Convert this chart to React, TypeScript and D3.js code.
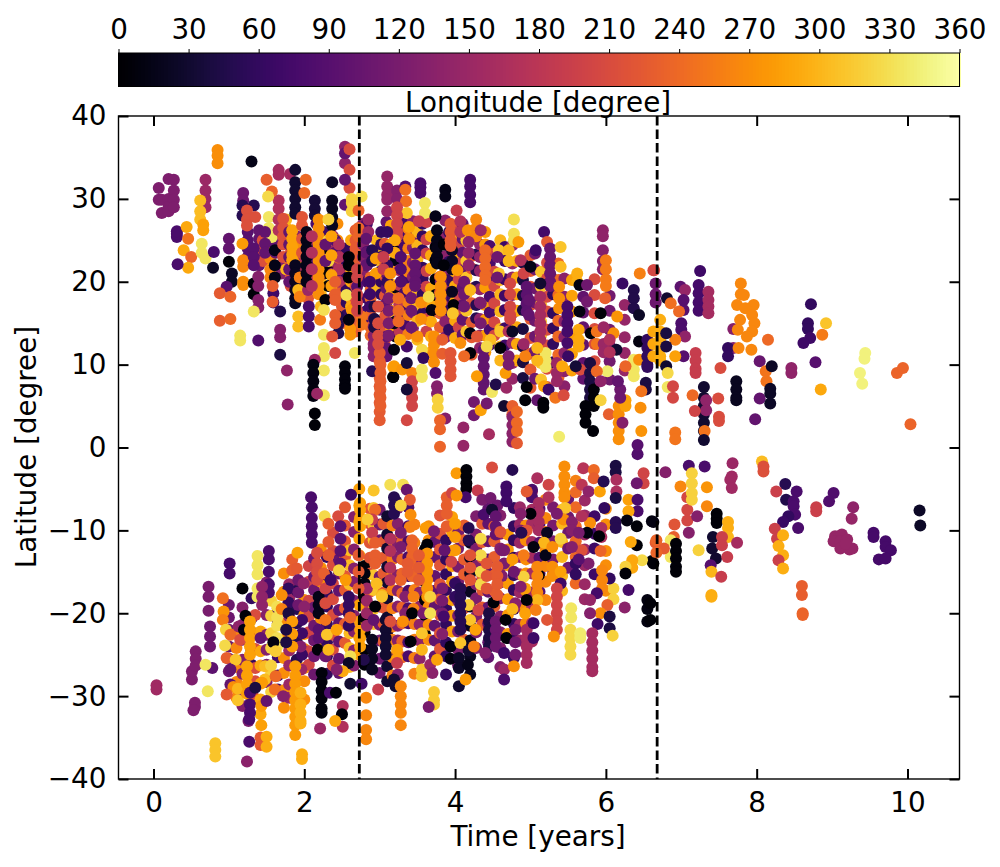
import { useEffect, useRef } from "react";
import { select, scaleLinear, scaleSequential, axisBottom, axisTop, axisLeft, axisRight, interpolateInferno, range } from "d3";

// each row: time [years], longitude [degree], then the latitudes seen at that time
type Streak = number[];

// the crowded part of the northern band, estimated, drawn underneath
const northDense: Streak[] = [
    [1.25, 90, 26, 25, 24, 23], [1.4, 100, 26.2, 25.2, 24, 23, 22], [1.45, 215, 25, 23.8, 22.5], [1.55, 265, 25, 24, 22.8, 21.5, 20.5], [1.62, 100, 25.5, 24.5, 23.5],
    [1.7, 130, 27.4, 26.4, 25.4, 22, 21], [1.76, 300, 27.5, 26.5, 25, 23, 21.5], [1.82, 215, 25, 23.5, 22, 20.5, 19.5], [1.9, 130, 25.5, 24, 22.5, 21], [1.95, 270, 24.5, 23, 21.8, 20.4, 19.2],
    [2.0, 170, 23, 21.5, 20, 18.5], [2.05, 220, 21.4, 20, 19, 18], [2.12, 175, 25, 24, 23, 22, 21, 19.5], [2.16, 80, 27, 25.5, 24, 22.5], [2.22, 300, 26, 24.5, 23, 21.5, 20, 18.5, 17],
    [2.26, 70, 26, 25, 24, 22.5, 21], [2.32, 5, 24, 22, 21, 19.5], [2.38, 150, 26.8, 25.5, 24, 22.5, 21, 19.5, 18], [2.44, 270, 27, 25, 23, 21, 19], [2.5, 225, 24, 22.5, 21, 19.5, 18, 17, 16, 15],
    [2.56, 60, 24, 23, 22, 20.5, 19, 17.5, 16], [2.62, 290, 25, 23, 21.5, 20, 18, 17], [2.68, 225, 26.2, 25, 24, 23, 22, 20.5, 19.5, 18, 17, 16, 15, 14], [2.78, 130, 27, 26, 24.5, 23, 21],
    [2.83, 75, 27, 25.5, 23.6, 22, 20, 18, 16.5, 15], [2.88, 240, 20.5, 19, 18, 16, 14.5, 13.5], [2.92, 135, 19, 17, 15.5, 14.6, 13.5, 12.5, 12, 11], [2.96, 300, 25, 23.5, 22.6, 21, 19.5],
    [3.02, 60, 26, 24.5, 23, 21.3, 20, 18.5, 17], [3.07, 220, 24.6, 22.4, 20.7, 18.3, 15.8, 14.5, 13], [3.09, 100, 27.2, 21, 19.2, 17.4, 13.4, 12, 11], [3.15, 285, 26.8, 24.5, 23.8, 22.2, 19.7, 18.4, 16.5, 14.5], [3.21, 15, 24.3, 22.6, 19.3, 15.2, 13.4],
    [3.26, 180, 28, 26.5, 25, 23.3, 21.4, 19.6, 17.3, 15.5, 14], [3.33, 75, 27, 25.5, 24.2, 22.5, 20.3, 18.6, 16.4, 14.8], [3.38, 260, 26.4, 24, 22.5, 21.2, 19.1, 17.5, 16, 13.7], [3.44, 130, 27.3, 25.3, 24.1, 22.3, 20.6, 18.2, 16.3, 14.4],
    [3.5, 300, 26, 24.4, 22.7, 20.5, 19, 17.2, 15.3, 13], [3.57, 60, 27, 25.5, 23.8, 21.7, 20.4, 18.5, 16.2], [3.62, 195, 27.2, 25.1, 23.4, 21.3, 19.4, 17.5, 15.5, 14], [3.68, 290, 25.5, 23.2, 21.6, 19.2, 17.3, 15.2, 13.4, 11.5], [3.74, 5, 24.2, 22.6, 20.3, 18.4, 16.5],
    [3.8, 230, 24.5, 22.3, 20.6, 18.7, 16.2, 14.5], [3.87, 135, 27.4, 25.4, 23.1, 21.2, 19.3, 17.4, 15.2, 13.3], [3.92, 60, 26, 24.3, 22.4, 20.2, 18.3, 16.5, 14.2], [4.0, 290, 25.6, 23.3, 21.2, 19.5, 17.6, 15.3, 13.2], [4.05, 200, 26.2, 24.5, 22.2, 20.3, 18.4, 16.3, 14.5],
    [4.1, 100, 27, 25.2, 23.5, 21.4, 19.3, 17.2, 15.4, 13.6], [4.15, 310, 25, 22.5, 20.5, 18.5, 16.5, 14], [4.22, 225, 25.3, 23.1, 21.6, 19.2, 17.4, 15.1, 13.3, 11.2], [4.28, 50, 23.3, 21.4, 19.4, 17.2, 15.6], [4.33, 140, 24.5, 23, 21.3, 19.1, 17.5, 15.5, 13.5, 12],
    [4.4, 280, 26, 24.5, 19.3, 17.2, 15.4, 13.5, 11.5], [4.46, 80, 24.3, 22.2, 20.4, 18.2, 16.3, 14.2, 12.4], [4.52, 205, 23.4, 21.2, 19.5, 17.4, 15.1, 13.5], [4.6, 300, 25, 23.4, 20.2, 18.5, 16.4, 14.3, 12.2, 10.5], [4.66, 70, 24.2, 22.5, 20.3, 18.3, 16.6, 14.4, 12.3],
    [4.76, 145, 24.4, 22.2, 20.5, 18.4, 16.2, 14.3, 12.6, 10.2, 8.3], [4.82, 290, 22.5, 20.5, 18.5, 16.5, 14.5, 12.5, 10.5], [4.9, 40, 22.3, 20.2, 18.3, 16.6, 14.3, 12.2, 10.3, 8.4], [5.0, 225, 23.2, 21.3, 19.4, 17.2, 15.5, 13.2, 11.3, 9.4, 7.2], [5.06, 110, 23.4, 21.5, 19.2, 17.5, 15.3, 13.4, 11.6, 8.3],
    [5.14, 310, 21.2, 19.4, 17.3, 15.2, 13.5, 10.2, 8.2], [5.22, 210, 22.3, 20.4, 18.2, 16.4, 14.2, 12.3, 9.5, 7.3], [5.3, 60, 20.3, 18.5, 16.2, 14.4, 12.5, 10.3], [5.37, 240, 22.2, 20.2, 18.4, 15.3, 13.4, 11.2, 8.4], [5.45, 135, 20.4, 18.2, 15.2, 13.3, 11.4, 9.2, 7.4],
    [5.55, 285, 20.2, 18.3, 16.4, 13.2, 11.3, 9.3], [5.7, 100, 18.2, 16.3, 14.5, 12.4, 10.2, 8.3], [5.85, 210, 20.3, 18.4, 16.2, 14.3, 12.5, 10.4], [6.05, 115, 18.3, 16.5, 14.2, 12.3, 10.4, 8.2], [6.25, 145, 17.2, 15.4, 13.3, 11.4, 9.3],
];

// the crowded part of the southern band, estimated, drawn underneath
const southDense: Streak[] = [
    [1.0, 110, -19, -20.5, -22, -24, -25.5, -27], [1.1, 265, -22.4, -24.2, -26.5, -28.3, -30.2], [1.18, 130, -19.3, -21.4, -23.2, -25.6, -27.3, -29.4, -31.2], [1.3, 60, -18.2, -20.6, -22.3, -24.5, -26.2, -28.4, -30.5], [1.35, 210, -20.2, -22.5, -24.3, -26.6, -28.2, -30.3],
    [1.42, 290, -22.2, -24.6, -26.3, -28.5, -30.4, -32.2], [1.5, 130, -16.3, -18.4, -20.2, -22.6, -24.4, -26.2, -28.3], [1.56, 320, -18.5, -20.3, -22.4, -24.2, -27.3, -29.5], [1.65, 75, -19.4, -21.2, -23.5, -25.3, -27.5, -29.2], [1.73, 270, -15.2, -17.4, -19.6, -21.3, -23.2, -25.4, -27.2, -29.3, -31.4],
    [1.8, 150, -16.5, -18.2, -20.4, -22.2, -24.5, -26.3, -28.6, -30.2], [1.9, 50, -17.3, -19.5, -21.2, -23.4, -25.6], [2.0, 270, -18.4, -20.2, -22.5, -24.3, -26.6, -28.2, -30.4], [2.06, 200, -14.3, -16.2, -18.5, -20.4, -22.3, -24.6, -26.2], [2.13, 110, -13.4, -15.6, -17.2, -19.3, -21.5, -23.3, -25.2, -27.4],
    [2.22, 270, -12.3, -14.5, -16.2, -18.4, -20.6, -22.2, -24.3], [2.3, 60, -13.2, -15.4, -17.6, -19.2, -21.3, -23.5, -25.2, -27.3], [2.38, 210, -10.3, -12.5, -14.2, -16.4, -18.3, -20.2, -22.6, -24.4, -26.3], [2.46, 100, -13.5, -15.2, -17.3, -19.6, -21.2, -23.4, -25.5, -27.2], [2.54, 225, -7.2, -9.4, -11.3, -13.2, -15.5, -17.2, -19.4, -21.3, -23.6],
    [2.6, 305, -12.4, -14.2, -16.5, -18.3, -20.2, -22.4, -24.2, -26.5], [2.66, 130, -8.4, -10.2, -12.3, -14.6, -16.2, -18.5, -20.3, -22.2, -24.5, -26.3], [2.73, 285, -5, -7, -9, -11, -13, -15, -17, -19, -21, -23, -25], [2.8, 5, -14.3, -16.4, -18.2, -20.5, -22.3, -24.4, -26.2], [2.87, 220, -7.4, -9.2, -11.5, -13.3, -15.2, -17.4, -19.3],
    [2.92, 310, -5.2, -7.3, -9.5, -11.2, -15.4, -17.2, -19.5, -21.3], [3.0, 110, -7.5, -9.3, -11.2, -13.4, -15.6, -19.2, -21.4, -23.3, -25.5, -27.2], [3.05, 225, -9.2, -11.4, -13.3, -15.2, -17.5, -19.3, -21.2, -23.4], [3.1, 30, -8.3, -10.5, -12.2, -14.4, -16.3, -18.2, -20.5, -22.3, -26.4, -28.2], [3.17, 260, -9.4, -11.2, -13.5, -15.3, -17.2, -19.4, -21.6, -23.2, -25.3, -27.5],
    [3.24, 130, -7.3, -9.2, -11.6, -13.2, -15.4, -17.3, -19.2, -21.5, -23.3, -25.2, -27.4], [3.3, 235, -11.3, -13.5, -15.2, -17.6, -19.3, -21.2, -23.4, -25.3], [3.38, 80, -7.2, -9.5, -11.3, -13.2, -15.5, -17.3, -19.4, -21.2, -23.5, -25.2], [3.46, 260, -9.3, -11.5, -13.2, -15.4, -17.2, -19.5, -21.3, -23.2, -25.4, -27.3], [3.53, 140, -13.4, -15.2, -17.5, -19.2, -21.4, -23.3, -25.5],
    [3.6, 5, -12.3, -14.5, -16.2, -18.4, -20.2, -22.5], [3.65, 270, -9.5, -11.2, -13.4, -15.3, -17.5, -19.2, -21.4, -23.2], [3.73, 100, -11.4, -13.2, -15.5, -17.3, -19.2, -21.5, -23.3, -25.2], [3.8, 220, -8.2, -10.4, -12.3, -14.2, -16.5, -18.3, -20.2, -22.4, -24.3], [3.88, 60, -11.2, -13.5, -15.3, -17.2, -19.4, -21.3, -23.5, -25.2, -27.4],
    [3.96, 285, -8.4, -10.2, -12.5, -14.3, -16.2, -18.4, -20.3, -22.2], [4.04, 120, -10.3, -12.2, -14.4, -16.2, -18.5, -20.3, -22.2, -24.4, -26.3], [4.12, 230, -9.4, -11.2, -13.5, -15.3, -17.2, -19.4, -21.5, -23.2], [4.2, 20, -11.5, -13.3, -15.2, -17.4, -19.2, -21.5, -23.3, -25.2, -27.4], [4.28, 125, -8.3, -10.5, -12.2, -14.3, -16.5, -18.2, -20.4, -22.3, -24.2],
    [4.36, 225, -9.2, -11.4, -13.3, -15.5, -17.2, -19.3, -21.4], [4.44, 100, -7.4, -9.2, -11.3, -13.5, -15.2, -17.4, -19.3, -21.2, -23.5, -25.3], [4.52, 230, -9.5, -11.3, -13.2, -15.4, -17.3, -19.2, -21.5], [4.6, 130, -8.2, -10.4, -12.2, -14.5, -16.3, -18.2, -20.4, -22.3, -24.2, -26.5], [4.7, 280, -10.5, -12.3, -14.2, -16.4, -18.3, -20.2, -22.5],
    [4.78, 60, -7.3, -9.5, -11.2, -13.3, -15.4, -17.2, -19.5, -21.3, -23.2, -25.4], [4.86, 150, -7.2, -9.3, -11.5, -13.2, -15.3, -17.5, -19.2, -21.4, -23.3], [4.94, 270, -9.4, -11.2, -13.5, -15.2, -17.3, -19.4, -21.2], [5.02, 160, -5.3, -7.5, -9.2, -11.4, -13.3, -15.2, -17.5, -19.3, -21.2, -23.4], [5.12, 90, -7.4, -9.2, -11.5, -13.3, -15.2, -17.4],
    [5.2, 265, -6.3, -8.5, -10.2, -12.4, -14.3, -16.2, -18.4], [5.3, 120, -7.2, -9.4, -11.3, -13.5, -15.2], [5.42, 300, -7.5, -9.2, -11.4, -13.2, -15.5, -17.3], [5.5, 110, -6.2, -8.4, -10.3, -12.2, -14.5], [5.6, 240, -5.4, -7.2, -9.5, -11.3, -13.2, -16.4], [5.72, 150, -6.4, -8.2, -10.5, -12.3, -14.2, -16.5, -18.3], [5.85, 70, -8.3, -10.4, -12.2, -15.3], [6.0, 270, -7.4, -9.3, -12.5, -14.2, -17.3],
];

const northEarly: Streak[] = [
    [0.07, 125, 31.3, 29.9], [0.11, 125, 29.9, 28.3], [0.2, 125, 32.4, 30, 29, 28.5], [0.27, 125, 32.3, 31, 29.9, 29],
    [0.31, 80, 25.4, 25.8, 26.1], [0.44, 290, 26.6], [0.4, 290, 23.8], [0.46, 250, 25.2], [0.5, 235, 23], [0.46, 290, 21.7], [0.32, 80, 22.1],
    [0.69, 150, 32.3, 31, 30, 29], [0.62, 305, 29.8, 28.5, 27.5], [0.66, 285, 26.9, 26.2], [0.64, 335, 24.6, 23.5], [0.69, 335, 22.8],
    [0.8, 80, 23.6], [0.79, 25, 21.7], [0.85, 270, 35.9, 35.2, 34.3], [1.3, 15, 34.5],
    [1.0, 100, 25.2, 24], [1.19, 110, 30.7, 29.8], [1.18, 50, 29.2, 28], [1.33, 50, 29.2], [1.24, 215, 28.6, 27.5, 26.8], [1.35, 215, 27.8],
    [1.53, 335, 27.8, 26.5], [1.57, 335, 25.4], [1.0, 5, 22.4], [1.04, 25, 21, 20], [0.97, 90, 19.4], [0.88, 225, 18.6], [1.02, 235, 18.2],
    [0.88, 230, 15.3], [1.02, 240, 15.5], [1.15, 335, 13.5, 12.9], [1.39, 85, 12.9], [1.19, 270, 19.6, 20], [1.19, 265, 22.6, 21.8], [1.18, 280, 24.6],
    [1.33, 90, 24, 23, 22], [1.33, 5, 19.8, 18.5], [1.39, 130, 20.6, 19.5], [1.39, 130, 17.8, 16.9], [1.33, 335, 16.4],
    [1.48, 100, 26, 24.6, 23.5], [1.61, 15, 23.8, 22, 20.5], [1.59, 70, 18.6, 17.5], [1.58, 230, 17.6, 19.5], [1.68, 45, 16.4], [1.68, 130, 14.2, 13.3],
    [1.68, 40, 11.2], [1.77, 140, 9.3], [1.78, 135, 5.2], [1.66, 160, 33.5, 32.9], [1.66, 170, 29.8, 28.8, 27.5, 26.2],
    [1.81, 160, 33], [1.88, 30, 33.5, 32, 31, 30, 29, 28.2], [1.5, 230, 32.3], [1.57, 235, 30.9], [1.52, 325, 30.3], [2.02, 240, 32.3], [2.0, 240, 30.7],
];

const northMiddle: Streak[] = [
    [1.72, 215, 27.6, 26.5, 25.5, 24.5, 23], [1.8, 100, 26, 24.5, 23, 21.5, 20], [1.84, 285, 26.2, 25.2, 24.2, 23.3, 22.6], [1.88, 20, 22, 21, 20, 19, 18, 17.4], [1.92, 300, 19],
    [1.94, 260, 20.5, 18.2], [1.92, 305, 15.8, 14.6], [2.06, 80, 17, 15.8, 14.6], [2.05, 150, 19], [2.14, 35, 29.8, 28.8, 28],
    [1.97, 220, 27.8, 26.8, 25.2, 23.5], [2.03, 15, 26, 25, 24, 23, 22, 21, 20], [2.19, 270, 27.5, 26.5, 25.5, 24.5, 23.5, 22.5, 21.5, 20.5, 19.5, 18.5],
    [2.1, 170, 25.5, 23.5, 21.5, 19.5], [2.28, 5, 17.8], [2.21, 255, 15.4], [2.26, 330, 16.6], [2.26, 335, 13.6], [2.26, 335, 12, 11], [2.26, 335, 9.3], [2.26, 335, 6.3],
    [2.14, 150, 10.6], [2.12, 10, 10, 9, 8, 7, 6.2], [2.17, 150, 6.5], [2.14, 5, 4.1, 2.7], [2.54, 8, 9.8, 9, 8.2, 7.5, 7.1], [2.41, 205, 11.4], [2.67, 335, 11.4],
    [2.61, 275, 14.3, 13.6], [2.45, 45, 15.8, 14.8, 13.8], [2.37, 220, 13.4], [2.37, 25, 32], [2.37, 20, 29.8, 28.8, 27.8, 26.8], [2.32, 320, 27.5, 25, 22.5],
    [2.41, 85, 25, 23.5, 21], [2.46, 170, 24.5, 23, 21.5, 20], [2.59, 5, 23, 22, 20.5], [2.28, 100, 24.5, 22.5], [2.36, 285, 25.5, 23.2, 20.8, 19.5], [2.41, 230, 20, 18.5, 17.8, 16, 15],
    [2.7, 90, 19.4], [2.56, 330, 18.4], [2.63, 280, 16.6], [2.76, 250, 15.8, 14.8], [2.59, 10, 15.4], [2.54, 140, 36.3, 34.3], [2.54, 100, 35.5], [2.6, 210, 36, 33.5, 31.3],
    [2.54, 100, 32.3, 29.3], [2.76, 330, 30.3], [2.63, 320, 30, 29.5, 28.5], [2.72, 235, 28.6, 26.5, 25.5], [2.85, 150, 27.5, 26],
    [2.82, 100, 25.2, 23.5, 22], [2.9, 50, 23.8, 22.5], [2.95, 280, 22.8, 21], [2.7, 200, 21.5, 20.5, 18.5, 17.5, 16.5], [2.87, 70, 20, 18.5, 17],
    [3.0, 225, 11.4, 10.4, 9.4, 8.4, 7.4, 6.4, 5.4, 4.3], [2.9, 50, 9.2], [3.18, 5, 8.5], [3.18, 280, 9.7], [2.93, 40, 17, 15.5, 14.5], [2.98, 210, 17, 15, 13.5, 12.5],
    [3.1, 145, 32.7, 31.5, 30.5, 29.9, 28.5], [3.23, 130, 31, 30], [3.34, 90, 31.5], [3.34, 245, 31.1], [3.35, 245, 29.7], [3.54, 80, 31.9, 31.4, 30.7], [3.6, 335, 29.5, 28.3],
    [3.87, 15, 31.1, 30.3], [4.2, 75, 32.3, 31.5, 30.5, 29.6], [3.36, 310, 28.3], [3.23, 200, 29, 28, 27, 26, 25.5], [3.39, 270, 25.2], [3.39, 285, 26.6], [3.52, 190, 27.3],
    [3.2, 290, 25, 23.5], [3.28, 85, 23, 21.5, 20], [3.1, 60, 26, 24, 22, 20], [3.05, 190, 23, 21.5], [3.14, 270, 21, 19.5, 18],
    [3.19, 15, 15], [3.19, 10, 11.8], [3.18, 5, 8.5], [3.36, 75, 12.2], [3.27, 290, 13], [3.19, 280, 9.8], [3.3, 275, 9.4], [3.43, 265, 9], [3.43, 200, 8, 7, 6, 5],
    [3.01, 230, 10, 9, 8, 7, 6, 5], [3.0, 225, 3.3], [3.36, 205, 3.3], [3.36, 35, 10.2], [3.36, 35, 7], [3.5, 270, 13.4], [3.56, 325, 11.8], [3.56, 335, 9.4, 8.5], [3.58, 60, 10.8],
    [3.12, 120, 18, 16.5, 15, 13.5], [3.25, 240, 18, 16.5, 15.2], [3.42, 110, 18, 16.5, 14.5], [3.55, 270, 17.5, 15.5],
];

const northLater: Streak[] = [
    [3.47, 100, 23.4, 22, 21, 20, 19.5], [3.65, 325, 18.2], [3.69, 10, 16.6], [3.81, 115, 20, 18, 16.5], [3.81, 270, 20.6, 19.5, 18.5, 17.5, 16.5], [3.96, 20, 18.8], [3.98, 5, 17.2], [3.97, 310, 16.2],
    [3.74, 15, 27.9], [3.76, 15, 26.2, 25, 24, 23, 22.2], [3.96, 25, 23.8, 22.5, 21.5], [3.85, 5, 24.5, 22], [4.02, 190, 28.6], [3.94, 225, 27, 26, 25, 24.3], [4.07, 170, 27.3, 26],
    [4.03, 280, 21.4], [4.17, 270, 26.2], [4.28, 265, 27.5, 26.5, 25.5], [4.34, 150, 26.2], [4.18, 140, 24.8, 23.5, 22], [4.4, 240, 23.8, 22.8, 21.8, 20.8, 20.2],
    [4.12, 110, 20, 18.5, 17], [4.2, 300, 19], [4.34, 125, 17.4], [4.58, 310, 23.8], [4.71, 300, 23.8, 22.5], [4.58, 310, 21], [4.56, 110, 23, 20.5],
    [4.78, 330, 27.5], [4.78, 330, 25.8, 25], [4.84, 280, 24.8], [4.87, 170, 22.6], [5.18, 75, 26], [5.22, 225, 24.8], [5.07, 70, 23.8], [5.26, 105, 24, 23, 22, 21, 20, 19.5],
    [5.4, 310, 24.2], [5.4, 305, 21.8], [5.38, 270, 19.4, 18, 16.8], [5.62, 295, 21, 20], [5.65, 10, 19.6], [5.75, 110, 19.6], [5.75, 115, 17.6], [5.65, 10, 16.4],
    [5.96, 140, 26.2, 25.5], [5.96, 130, 23.8, 22.5, 21.5], [6.0, 255, 22.6, 21.5, 20.3, 19.5], [5.99, 230, 18], [5.93, 5, 16.2], [6.22, 65, 19.8], [6.37, 45, 19, 18, 16.8], [6.44, 25, 16], [6.45, 260, 21], [6.63, 215, 21.4],
    [4.91, 200, 21], [5.0, 15, 21.8], [5.13, 30, 19.8], [4.73, 205, 19.8, 18.5, 17, 16, 15.5], [4.95, 95, 19.4, 18.4, 17.4, 16.4], [4.98, 100, 17.8, 16], [5.13, 160, 18.2, 17, 16, 15, 14, 13], [5.49, 75, 17, 16, 15, 14, 12.6],
    [5.64, 290, 14.2, 13, 12.2], [5.66, 210, 9.4], [5.8, 5, 13.8], [5.88, 250, 14, 12.5], [6.1, 270, 13.8], [6.15, 275, 15.8], [6.14, 30, 11.8], [6.02, 340, 9.2], [6.37, 335, 10.6, 9.4, 8.6], [6.26, 235, 9.8], [6.44, 270, 10.6],
    [6.44, 10, 12.8], [6.55, 60, 13, 12, 11, 10, 9.7], [6.53, 40, 7.8, 7], [6.63, 290, 14, 12.5, 11], [5.97, 150, 14.5, 12.5, 11.5], [6.05, 170, 13, 11.5],
    [3.72, 270, 13.4, 12.4, 11.4, 10.3], [3.83, 230, 13, 11.3], [3.94, 220, 11.4, 10.4, 9.4, 8.6], [3.74, 85, 9], [3.76, 130, 7.4, 6.5], [3.77, 320, 5.8, 4.8], [3.87, 130, 3.5], [3.8, 235, 3.3, 2.2], [3.8, 235, 0.1],
    [4.11, 145, 2.4], [4.11, 145, 0.2], [4.45, 160, 1.6], [4.25, 115, 5.5, 3.9], [4.34, 285, 4.5], [4.42, 115, 5.3], [4.38, 100, 11.8, 10.8, 9.8, 8.8, 7.8, 7], [4.29, 280, 8.6], [4.49, 335, 6.7], [4.54, 45, 7.6], [4.68, 150, 7.2],
    [4.65, 30, 5], [4.76, 230, 5, 4], [4.76, 135, 3.7, 2.7, 1.7, 0.7], [4.82, 240, 4.3, 3, 2], [4.82, 225, 0.5], [4.67, 280, 9], [4.47, 305, 13], [4.6, 5, 12], [4.6, 310, 14], [4.71, 120, 11, 10], [4.71, 170, 14], [4.2, 10, 13.8], [4.2, 5, 11.4],
    [4.07, 270, 12.6], [4.12, 240, 11], [4.29, 220, 13.4], [4.42, 325, 12.2], [4.76, 25, 14], [4.34, 120, 15], [5.09, 100, 5.7], [4.93, 5, 5.7], [4.95, 5, 7.3], [5.17, 5, 5.4, 4.8], [5.18, 285, 7.4], [5.24, 70, 7], [5.33, 250, 6], [5.44, 210, 6.3],
    [5.35, 150, 10.2, 9, 8], [5.42, 290, 9.8], [5.6, 35, 9.8], [5.5, 65, 11], [5.79, 40, 10.2, 9, 8, 7, 6], [5.84, 5, 7, 6, 5], [5.73, 5, 5, 4, 3], [5.83, 5, 2], [5.93, 320, 5.7], [5.88, 240, 9.2], [5.93, 140, 8], [5.38, 340, 1.3],
    [6.04, 230, 4], [6.17, 270, 5, 4, 3, 2, 1], [6.22, 130, 3], [6.26, 285, 5.7, 5], [6.19, 110, 7, 6], [6.16, 100, 8], [6.46, 270, 4.8], [6.47, 275, 2], [6.47, 250, 6.8], [6.42, 85, -0.8], [5.2, 335, 11.4, 10.5, 9.7], [5.09, 300, 12, 10.5], [4.91, 150, 12.5], [4.93, 260, 11],
];

const northLate: Streak[] = [
    [7.25, 70, 21.3], [7.23, 75, 19.6, 18.6, 17.5, 16.5], [7.36, 160, 18.8, 17.8, 17, 16.2], [6.99, 95, 19.4], [7.05, 145, 19], [7.03, 90, 17.8, 16.6], [6.81, 30, 18], [6.86, 245, 17.4], [6.64, 205, 21.4],
    [6.66, 110, 19.8, 18.5, 17.5], [6.97, 240, 16.4], [7.0, 80, 15, 14.2], [7.05, 140, 13.4], [6.92, 260, 13], [6.72, 295, 15.4, 14, 13, 12, 11, 10.5], [6.8, 40, 13.8, 12.2], [7.03, 90, 11], [6.92, 285, 11], [6.8, 30, 9.8], [6.82, 325, 9], [6.82, 335, 7.3],
    [6.89, 205, 7.4], [6.89, 205, 6], [7.19, 190, 11.4, 10.5, 9.5, 9], [7.52, 210, 9.6], [7.3, 30, 7.3, 6, 5, 4, 3, 2], [7.31, 250, 2], [7.3, 30, 0.9], [7.33, 140, 5.7, 4.5], [7.15, 240, 6.3], [7.18, 200, 4.4], [7.49, 210, 5.9], [7.5, 210, 3.7, 3.2],
    [7.73, 20, 8, 7, 6, 5.7], [6.92, 250, 1.8, 1], [7.98, 100, 3.4], [8.04, 100, 5.9], [8.04, 105, 10.4], [8.12, 250, 9.2], [8.13, 250, 8], [8.2, 25, 9.8], [8.18, 25, 7.1, 6.5, 5.3], [8.46, 140, 9.6, 9], [8.78, 90, 10.3], [8.85, 290, 7],
    [8.72, 60, 17.3], [8.68, 60, 15, 14.3], [8.71, 70, 13.2], [8.62, 70, 12.6], [8.87, 255, 13.6], [8.92, 310, 15], [9.44, 345, 11.4], [9.43, 345, 10.7], [9.37, 345, 9], [9.4, 345, 7.7], [9.86, 235, 9], [9.94, 235, 9.6], [10.04, 235, 2.8],
    [7.69, 130, 14.3], [7.69, 130, 12], [7.62, 60, 12, 11], [7.79, 265, 19.8, 18.5], [7.83, 265, 18.4], [7.74, 265, 17.2], [7.96, 265, 17.2], [7.85, 265, 16.8], [7.94, 265, 16], [7.78, 265, 15.4], [7.97, 265, 15], [7.75, 265, 14.2], [7.94, 265, 14], [7.87, 265, 13.4], [7.76, 265, 12], [7.93, 265, 11.8], [8.15, 240, 13],
];

const southEarly: Streak[] = [
    [0.04, 155, -28.7, -29.2], [0.51, 125, -28, -27], [0.56, 125, -24.6, -25.5, -26.3], [0.55, 125, -31.3, -30.8], [0.53, 125, -31.7], [0.72, 335, -29.4], [0.73, 120, -16.8, -18], [0.73, 120, -19.7], [0.75, 110, -21.6, -22.8, -24], [0.78, 95, -26.6], [0.69, 335, -26.2],
    [1.01, 75, -14, -15.2], [1.18, 5, -17], [0.92, 245, -18.2], [0.93, 275, -19.8], [0.92, 260, -20.8], [0.96, 320, -22], [0.95, 325, -23.9], [1.02, 240, -22.6], [0.97, 230, -25.4], [1.09, 310, -25.6], [1.13, 140, -21.6], [1.15, 210, -23.2], [1.22, 5, -20.3], [1.2, 10, -22],
    [1.02, 100, -26.8, -28.6], [1.06, 270, -28.9], [1.12, 300, -29.1], [0.97, 225, -29.8], [1.12, 310, -30.5], [1.28, 285, -21, -22, -23, -24, -25], [1.38, 335, -13.1, -14.2, -15.3, -17, -18], [1.24, 285, -26.4, -27.5, -28.6, -29.7], [1.28, 80, -29.6, -31, -32], [1.26, 120, -33], [1.27, 80, -32.8], [1.27, 80, -35.5],
    [1.43, 285, -33.5], [1.43, 280, -31.2], [1.42, 225, -35, -35.9], [1.5, 295, -34.9, -36.1], [1.24, 135, -37.9], [0.82, 310, -35.7, -36.5, -37.3], [1.53, 80, -12.5, -13.5], [1.53, 80, -15, -16.5, -17.5], [1.44, 140, -16.8, -18, -19], [1.42, 100, -23], [1.48, 305, -26.4, -28], [1.44, 280, -28.4], [1.35, 40, -29],
    [1.64, 330, -19.2, -20.5, -21.5, -23, -24], [1.59, 10, -23.5], [1.62, 315, -24.6], [1.56, 320, -26.3], [1.62, 240, -27.6], [1.5, 100, -30.6], [1.61, 245, -29.2], [1.72, 130, -30], [1.79, 60, -17, -18.7], [1.7, 270, -17.8], [1.7, 260, -19.5], [1.79, 40, -20],
    [1.84, 230, -13.5, -14.8], [1.91, 285, -12.7], [1.9, 225, -14.6], [1.92, 110, -16, -17.5, -19], [1.99, 140, -16.4], [2.0, 135, -19.2], [1.97, 70, -20.8, -22.4], [1.97, 65, -25], [1.95, 130, -24], [1.96, 150, -26.8], [1.84, 280, -21, -22.5, -24],
    [1.88, 280, -26.4, -27.5, -28.5, -29.5, -30.5, -31.5, -32.5, -33.5, -34.7], [1.95, 295, -29.6, -31, -32, -33, -33.3], [1.97, 295, -37, -37.6], [1.76, 40, -22, -23.5],
];

const southMiddle: Streak[] = [
    [2.09, 80, -6], [2.1, 80, -7.2, -8.5, -9.5, -10.5, -11.5], [2.27, 325, -8.3], [2.32, 230, -9.2], [2.45, 210, -8.3], [2.62, 70, -5.7], [2.48, 90, -9.5, -11, -12.5, -14], [2.17, 210, -12.7, -14, -15, -16], [2.32, 225, -11.4, -13], [2.74, 285, -6.7, -7.5, -8.5, -9.5],
    [2.74, 285, -22, -23, -24], [2.23, 8, -27.2, -28.3, -29.3, -30.3, -31.5, -32], [2.34, 80, -29.6], [2.42, 5, -29.6], [2.51, 170, -31.2], [2.51, 170, -33.7], [2.5, 5, -32.2], [2.41, 290, -33], [2.21, 150, -33.9], [2.61, 30, -28.5], [2.76, 70, -28.5], [2.98, 190, -29.2],
    [2.82, 265, -30.2], [2.82, 265, -32.3], [2.82, 265, -34.1, -35.2], [2.9, 20, -23.2, -24.3, -25.5, -26.8], [2.79, 45, -25.6], [2.61, 330, -25.2], [2.59, 25, -26], [2.51, 290, -27], [2.43, 130, -26.8], [2.19, 15, -18, -19, -20], [2.19, 90, -22, -23], [2.18, 5, -24.4], [2.28, 110, -25.2],
    [2.32, 300, -24.4], [2.3, 310, -22.6], [2.43, 285, -22], [2.28, 250, -20.8], [2.28, 210, -18.8], [2.26, 230, -15.2], [2.28, 200, -17], [2.35, 70, -16], [2.46, 320, -14.8], [2.55, 280, -16], [2.59, 60, -18, -19, -20, -21.5], [2.61, 235, -20.5], [2.8, 10, -15.2, -16.5], [2.83, 150, -17, -18.5, -20, -21.5],
    [2.96, 305, -16.4], [3.03, 300, -17.8], [2.94, 5, -19.2], [2.92, 100, -20.8], [2.72, 225, -13, -15, -17], [2.94, 240, -7.5], [2.9, 190, -8.7], [2.9, 190, -10.3], [2.94, 230, -11.5, -13, -14], [2.84, 315, -8.7], [3.14, 330, -4.5], [3.22, 50, -6.5],
    [3.31, 330, -4.5], [3.36, 105, -5.1], [3.4, 225, -6.3], [3.19, 50, -6, -7, -8], [3.28, 320, -7], [3.41, 270, -8.1], [3.4, 260, -9.6], [3.28, 120, -10.3, -12], [3.14, 170, -11, -12.5, -14.5, -16], [3.43, 235, -11.2, -12.2, -13.2, -14.4, -15.5], [3.28, 235, -16], [3.61, 280, -9.7], [3.63, 5, -11.7],
    [3.63, 275, -12.8, -14, -15, -16, -17, -18], [3.72, 120, -10.1], [3.52, 225, -13, -14.5, -16], [3.37, 225, -14, -15], [3.03, 310, -18], [3.08, 30, -20.8, -22, -23, -24, -25], [3.14, 215, -21], [3.23, 285, -24.4, -25.5], [3.23, 190, -26], [3.19, 30, -28], [3.21, 30, -28.8],
    [3.28, 265, -28.8, -30, -31, -32, -33.5], [3.34, 130, -18, -20], [3.45, 260, -18, -19.5], [3.31, 270, -21], [3.43, 5, -20], [3.58, 120, -20], [3.67, 320, -18], [3.67, 330, -20], [3.56, 310, -22.4], [3.56, 300, -24.4], [3.56, 310, -26.8, -27.6], [3.41, 5, -23.4], [3.67, 150, -26.2], [3.7, 135, -27.2], [3.72, 315, -29.5, -30.5, -31], [3.65, 120, -31.3], [3.76, 285, -25.6],
    [3.83, 120, -17, -18.5, -20], [3.85, 75, -20.4], [3.83, 130, -22.5],
];

const southLater: Streak[] = [
    [3.89, 230, -6, -7, -8, -9.5], [3.96, 200, -5.5], [4.02, 280, -3.1], [4.15, 5, -2.7, -3.5, -4.3, -5], [4.14, 75, -6], [4.02, 275, -5.8], [4.3, 190, -5.2], [4.0, 280, -9.2, -10.8, -12.4], [4.18, 50, -9.7, -11.2], [3.86, 100, -12.4], [3.95, 200, -13.8],
    [3.94, 10, -24, -25.5], [4.07, 310, -23.6], [4.05, 25, -25.4, -26.6], [4.17, 15, -26.2], [4.05, 30, -28.8], [4.14, 280, -28], [4.18, 30, -24.5], [4.25, 260, -24], [4.18, 315, -19], [4.2, 310, -20.8], [4.27, 285, -22], [4.31, 200, -19.6], [4.0, 60, -16.4, -18], [4.07, 50, -17, -18, -19, -20, -21, -22],
    [4.34, 325, -11, -13, -15, -16.5], [4.42, 220, -14, -15.5, -17], [4.2, 220, -13, -14.5, -16], [4.36, 120, -6.3], [4.47, 115, -6.1], [4.56, 110, -7], [4.68, 70, -4.7, -5.5, -6.5], [4.38, 80, -8.1], [4.49, 30, -7.5], [4.54, 100, -8.3, -9.5, -10.5], [4.62, 125, -12.4, -15.5], [4.6, 220, -10.2], [4.51, 5, -18.7],
    [4.65, 120, -12.4, -14], [4.56, 225, -14.4, -15.5, -16.5, -17.8], [4.45, 40, -20, -21, -22, -23, -24], [4.54, 110, -21, -22, -23, -24], [4.4, 130, -24.8], [4.65, 70, -24.8], [4.65, 150, -26.8], [4.65, 80, -28], [4.67, 5, -20.8], [4.68, 5, -23], [4.8, 135, -18.8], [4.8, 115, -22, -23.5, -25], [4.78, 270, -26.4], [4.76, 300, -19.5],
    [4.93, 285, -17, -20], [4.95, 160, -22, -23, -24, -25, -26], [5.04, 70, -21.2, -23], [4.49, 210, -2.4], [4.76, 50, -2.7], [5.09, 165, -3.7], [5.24, 200, -4.5], [5.24, 170, -6], [5.02, 80, -5.1, -6], [4.95, 225, -5.3], [5.11, 160, -6.7, -7.8, -9, -10], [5.0, 5, -8], [4.87, 130, -8, -10], [4.95, 220, -10], [4.88, 50, -10.3],
    [5.22, 20, -10.3], [5.18, 300, -11.5], [5.04, 10, -12], [4.91, 255, -13], [4.91, 320, -15.6], [5.11, 5, -15.4], [5.2, 15, -13], [5.29, 270, -12], [5.29, 270, -14.4, -15.5], [5.4, 285, -15], [5.4, 70, -16.4], [5.35, 200, -17, -18, -19, -20, -21, -22], [5.31, 270, -22.8], [5.22, 220, -20.8], [5.09, 265, -14.4, -15.5, -16.5, -17.5],
    [5.09, 300, -18.4], [5.07, 260, -19.6], [4.87, 130, -16.8], [4.78, 110, -15], [4.95, 5, -18.4], [4.76, 280, -13.5], [5.45, 270, -2.3, -3.5, -4.5, -5.5, -6], [5.46, 310, -7.3], [5.44, 270, -8.7], [5.6, 260, -4], [5.68, 180, -4.5], [5.7, 175, -2.5], [5.84, 240, -2.7], [5.84, 230, -3.7], [5.77, 140, -5.3], [5.92, 285, -5.3], [5.97, 50, -4.1],
    [6.13, 40, -2.2, -3], [6.14, 165, -3.9, -5.3], [6.13, 40, -6.1], [5.98, 60, -7.3], [6.13, 50, -9, -9.7], [6.5, 200, -3.1, -4.3], [6.41, 110, -4.3], [6.42, 90, 0.3], [6.3, 285, -6.3], [6.42, 80, -6.3, -7.7], [6.3, 290, -7.7], [6.28, 10, -8.8], [6.41, 5, -9.5], [6.41, 5, -11.8], [6.33, 290, -11.4], [6.61, 10, -8.9], [6.66, 225, -11.5], [6.61, 5, -13.7],
    [6.48, 325, -13.6], [6.35, 290, -13.6, -14.5], [6.26, 320, -14.4], [6.26, 5, -15.2], [6.3, 75, -17.2], [6.1, 320, -17, -18.3], [6.05, 60, -15.8], [5.95, 265, -14.8, -16, -17], [5.88, 75, -17.6], [6.02, 230, -19], [5.93, 270, -20], [5.79, 145, -18.4], [5.79, 130, -20], [5.89, 70, -21.3], [6.05, 40, -20.4, -21.8], [6.09, 320, -22.7], [6.25, 135, -19.3], [6.55, 10, -18.4, -19.5, -21],
    [5.82, 160, -22.4, -23.5, -24.5, -25.5, -26.5, -27], [5.54, 335, -19.4, -20.5], [5.53, 325, -22, -23, -24, -25], [5.66, 340, -22.4, -23], [5.93, 235, -12.5], [5.94, 165, -9.7, -10.8], [5.77, 125, -14], [5.6, 60, -14, -15.3], [5.68, 215, -12.4], [5.64, 90, -13.5], [5.79, 270, -9.1], [5.75, 10, -10.3], [5.91, 5, -10.7], [5.68, 170, -8.3], [5.55, 130, -9, -10], [5.64, 120, -10.3], [5.55, 130, -12], [5.4, 320, -11], [5.35, 120, -8],
];

const southLate: Streak[] = [
    [6.79, 130, -3], [7.1, 80, -2.2], [7.31, 80, -2.3], [7.68, 150, -1.9], [8.07, 305, -1.7], [8.09, 215, -2.3, -2.9], [7.67, 155, -3.5], [7.65, 155, -3.9], [7.67, 155, -4.9], [7.08, 205, -6, -7.5, -8.8], [7.14, 320, -3.1, -4.3, -5.5, -6.3], [6.99, 265, -4.7], [7.34, 275, -4.8], [7.34, 265, -7.1], [7.21, 130, -8.3], [7.1, 130, -10.3],
    [7.47, 5, -8, -8.6, -9.1], [7.62, 295, -9, -9.7], [7.62, 300, -10.8], [7.42, 30, -10.8], [7.41, 30, -12.2], [7.46, 30, -13.4], [7.39, 90, -14.2], [7.4, 300, -15], [7.54, 195, -10.8, -11.8], [7.74, 160, -11.5], [7.61, 190, -13.2], [7.53, 190, -15.6], [7.4, 295, -17.8, -18], [7.23, 320, -12.4],
    [6.91, 220, -9.3], [6.9, 230, -10.8], [6.86, 335, -13.2], [6.86, 335, -11.2], [6.93, 5, -11.6, -12.5, -13.4, -14.4, -15], [6.77, 225, -12.2], [6.67, 235, -11.2, -12.7], [6.63, 10, -9], [6.63, 5, -14], [6.59, 5, -18.8, -20.8],
    [8.38, 50, -4.4], [8.26, 195, -5.3], [8.53, 80, -5.3], [8.39, 45, -6.3], [8.49, 80, -6.5, -7.1], [8.51, 80, -8.1], [8.42, 60, -8.3], [8.35, 65, -9], [8.55, 80, -9.7], [8.24, 195, -9.8], [8.27, 195, -11], [8.35, 295, -10.6], [8.29, 295, -11.9], [8.35, 295, -13], [8.29, 195, -13.6], [8.35, 295, -14.6],
    [8.6, 230, -16.7, -17.8], [8.61, 235, -20, -20.2], [8.79, 195, -7.7, -7.2], [9.02, 85, -5.5], [8.96, 85, -6.5], [9.28, 140, -7.2], [9.26, 145, -8.6], [9.04, 145, -10.7], [9.13, 145, -10.5], [9.02, 145, -11.3], [9.11, 145, -11.3, -12.2], [9.2, 145, -11.1], [9.23, 145, -12.3], [9.27, 145, -12.2], [9.18, 145, -11.6],
    [9.55, 75, -10.3, -10.8], [9.71, 75, -11.3, -12], [9.78, 75, -12.4], [9.62, 75, -13.5], [9.71, 75, -13.4], [10.16, 25, -7.6], [10.17, 25, -9.4],
];

const streaks = [...northDense, ...southDense, ...northEarly, ...northMiddle, ...northLater, ...northLate, ...southEarly, ...southMiddle, ...southLater, ...southLate];
const splitTimes = [2.73, 6.68];
const timeTicks = [0, 2, 4, 6, 8, 10];
const latTicks = [-40, -30, -20, -10, 0, 10, 20, 30, 40];
const lonTicks = [0, 30, 60, 90, 120, 150, 180, 210, 240, 270, 300, 330, 360];

const FONT = "'DejaVu Sans', sans-serif";
const FONT_SIZE = 27.8;
const left = 118.5, right = 959.5, top = 116, bottom = 779;

export default function App() {
    const axesRef = useRef<SVGGElement>(null);

    const x = scaleLinear().domain([-0.464, 10.69]).range([left, right]);
    const y = scaleLinear().domain([-40, 40]).range([bottom, top]);
    const lonScale = scaleLinear().domain([0, 360]).range([left, right]);
    const color = scaleSequential(interpolateInferno).domain([0, 360]);
    const points = streaks.flatMap(([t, lon, ...lats]) => lats.map((lat) => ({ t, lon, lat })));

    useEffect(() => {
        const g = select(axesRef.current);
        g.selectAll("*").remove();

        const style = (sel: any, width: number) => {
            sel.selectAll("text").attr("font-family", FONT).attr("font-size", FONT_SIZE).attr("fill", "#000");
            sel.selectAll(".tick line").attr("stroke", "#000").attr("stroke-width", width);
            sel.select(".domain").remove();
        };

        style(g.append("g").attr("transform", `translate(0,${bottom})`)
            .call(axisBottom(x).tickValues(timeTicks).tickSize(-10).tickPadding(13).tickFormat((d) => String(d))), 2);
        style(g.append("g").attr("transform", `translate(0,${top})`)
            .call(axisTop(x).tickValues(timeTicks).tickSize(-10).tickFormat(() => "")), 2);
        style(g.append("g").attr("transform", `translate(${left},0)`)
            .call(axisLeft(y).tickValues(latTicks).tickSize(-10).tickPadding(12)), 2);
        style(g.append("g").attr("transform", `translate(${right},0)`)
            .call(axisRight(y).tickValues(latTicks).tickSize(-10).tickFormat(() => "")), 2);
        style(g.append("g").attr("transform", "translate(0,53)")
            .call(axisTop(lonScale).tickValues(lonTicks).tickSize(4).tickPadding(10).tickFormat((d) => String(d))), 1);
    }, []);

    return (
        <svg width={1000} height={867} style={{ position: "absolute", left: 0, top: 0, background: "#fff" }}>
            <g shapeRendering="crispEdges">
                {range(256).map((i) => (
                    <rect
                        key={i}
                        x={lonScale((i / 256) * 360)}
                        y={53}
                        width={(right - left) / 256 + 1}
                        height={33.5}
                        fill={color(((i + 0.5) / 256) * 360)}
                    />
                ))}
            </g>
            <rect x={left} y={53} width={right - left} height={33.5} fill="none" stroke="#000" strokeWidth={1} />

            <g>
                {points.map((p, i) => (
                    <circle key={i} cx={x(p.t)} cy={y(p.lat)} r={6} fill={color(p.lon)} />
                ))}
            </g>
            {splitTimes.map((t) => (
                <line key={t} x1={x(t)} x2={x(t)} y1={top} y2={bottom} stroke="#000" strokeWidth={2.8} strokeDasharray="9.5 4" />
            ))}
            <rect x={left} y={top} width={right - left} height={bottom - top} fill="none" stroke="#000" strokeWidth={1.4} />
            <g ref={axesRef} />

            <text x={538} y={112} textAnchor="middle" fontFamily={FONT} fontSize={FONT_SIZE}>Longitude [degree]</text>
            <text x={538} y={846} textAnchor="middle" fontFamily={FONT} fontSize={FONT_SIZE}>Time [years]</text>
            <text transform="translate(36,447) rotate(-90)" textAnchor="middle" fontFamily={FONT} fontSize={FONT_SIZE}>Latitude [degree]</text>
        </svg>
    );
}
